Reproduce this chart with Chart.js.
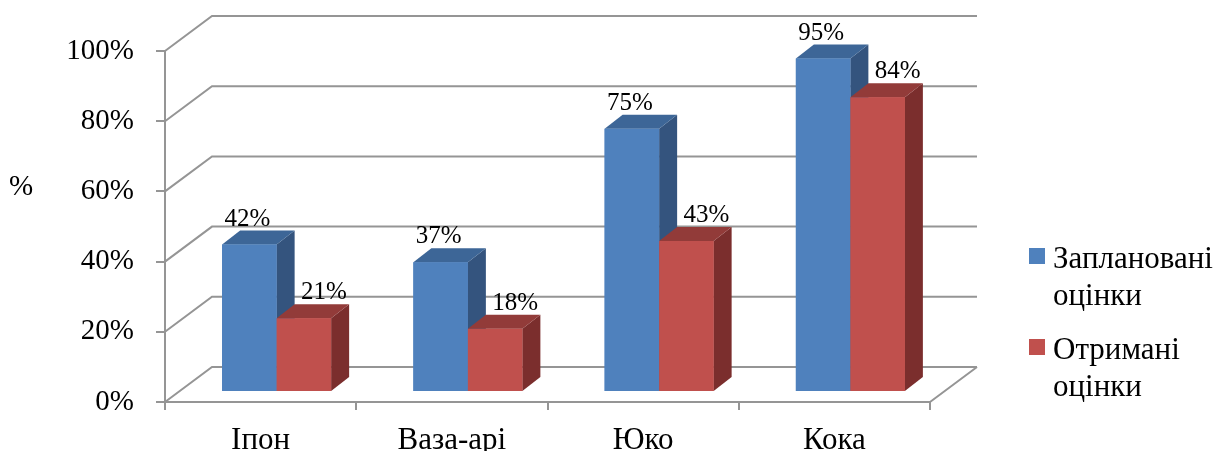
<!DOCTYPE html>
<html>
<head>
<meta charset="utf-8">
<script src="https://cdn.jsdelivr.net/npm/chart.js@4/dist/chart.umd.min.js"></script>
<style>
  html, body { margin: 0; padding: 0; background: #fff; }
  #wrap { width: 1221px; height: 451px; position: relative; }
</style>
</head>
<body>
<div id="wrap"><canvas id="chart"></canvas></div>
<script>
// chart data
const categories = ['Іпон', 'Ваза-арі', 'Юко', 'Кока'];
const planned = [42, 37, 75, 95];
const received = [21, 18, 43, 84];
const seriesNames = [['Заплановані', 'оцінки'], ['Отримані', 'оцінки']];
const yTicks = [0, 20, 40, 60, 80, 100];

// 3d look
const WALL = { dx: 47, dy: -35 };   // depth of the back wall
const PLANE = { dx: 16, dy: -10 };  // where the bars stand
const DEPTH = { dx: 18, dy: -14 };  // depth of one bar
const FONT = 'Liberation Serif, Times New Roman, serif';
const GRID = '#959595';

const colors = [
  { front: '#4f81bd', top: '#3d6697', side: '#34547e' },
  { front: '#c0504d', top: '#923b39', side: '#7b2e2d' }
];
const labelShift = [-2, 20];

function barBox(el) {
  const p = el.getProps(['x', 'y', 'base', 'width'], true);
  return { l: p.x - p.width / 2, r: p.x + p.width / 2, t: p.y, b: p.base, cx: p.x };
}

function poly(ctx, pts, fill) {
  ctx.beginPath();
  ctx.moveTo(pts[0][0], pts[0][1]);
  for (let i = 1; i < pts.length; i++) ctx.lineTo(pts[i][0], pts[i][1]);
  ctx.closePath();
  ctx.fillStyle = fill;
  ctx.fill();
}

const box3d = {
  id: 'box3d',
  beforeDatasetsDraw(chart) {
    const ctx = chart.ctx, a = chart.chartArea, y = chart.scales.y;
    ctx.save();
    ctx.strokeStyle = GRID;
    ctx.lineWidth = 2;
    ctx.beginPath();
    yTicks.forEach(v => {
      const py = y.getPixelForValue(v);
      ctx.moveTo(a.left, py);
      ctx.lineTo(a.left + WALL.dx, py + WALL.dy);
      ctx.lineTo(a.right + WALL.dx, py + WALL.dy);
    });
    ctx.moveTo(a.right, a.bottom);
    ctx.lineTo(a.right + WALL.dx, a.bottom + WALL.dy);
    ctx.stroke();
    ctx.restore();
    ctx.save();
    ctx.translate(PLANE.dx, PLANE.dy);
  },
  afterDatasetsDraw(chart) {
    const ctx = chart.ctx;
    chart.data.datasets.forEach((ds, i) => {
      const c = colors[i];
      chart.getDatasetMeta(i).data.forEach(el => {
        const b = barBox(el);
        poly(ctx, [[b.r, b.t], [b.r + DEPTH.dx, b.t + DEPTH.dy], [b.r + DEPTH.dx, b.b + DEPTH.dy], [b.r, b.b]], c.side);
        poly(ctx, [[b.l, b.t], [b.r, b.t], [b.r + DEPTH.dx, b.t + DEPTH.dy], [b.l + DEPTH.dx, b.t + DEPTH.dy]], c.top);
        el.draw(ctx, chart.chartArea);
      });
    });
    ctx.restore();
  },
  afterDraw(chart) {
    const ctx = chart.ctx;
    ctx.save();
    ctx.fillStyle = '#000';
    ctx.textBaseline = 'alphabetic';

    // value labels
    ctx.font = '25px ' + FONT;
    ctx.textAlign = 'center';
    chart.data.datasets.forEach((ds, i) => {
      chart.getDatasetMeta(i).data.forEach((el, j) => {
        const b = barBox(el);
        ctx.fillText(ds.data[j] + '%', b.cx + PLANE.dx + labelShift[i], b.t + PLANE.dy - 19);
      });
    });

    // axis title
    ctx.font = '29px ' + FONT;
    ctx.textAlign = 'left';
    ctx.fillText('%', 9, 195);

    // legend
    ctx.font = '31px ' + FONT;
    const lx = 1029, ly = [248, 339];
    seriesNames.forEach((lines, i) => {
      ctx.fillStyle = colors[i].front;
      ctx.fillRect(lx, ly[i], 16, 16);
      ctx.fillStyle = '#000';
      lines.forEach((t, k) => ctx.fillText(t, lx + 24, ly[i] + 20 + k * 37));
    });
    ctx.restore();
  }
};

new Chart(document.getElementById('chart'), {
  type: 'bar',
  data: {
    labels: categories,
    datasets: [
      { label: seriesNames[0].join(' '), data: planned, backgroundColor: colors[0].front },
      { label: seriesNames[1].join(' '), data: received, backgroundColor: colors[1].front }
    ]
  },
  options: {
    responsive: true,
    maintainAspectRatio: false,
    animation: false,
    events: [],
    layout: { padding: { left: 0, top: 51, right: 291, bottom: 0 } },
    datasets: { bar: { categoryPercentage: 0.57, barPercentage: 1 } },
    plugins: { legend: { display: false }, tooltip: { enabled: false } },
    scales: {
      x: {
        grid: { drawOnChartArea: false, color: GRID, lineWidth: 2, tickLength: 8 },
        border: { color: GRID, width: 2 },
        ticks: { color: '#000', font: { family: FONT, size: 31 }, padding: 12, maxRotation: 0 },
        afterFit: s => { s.height = 49; }
      },
      y: {
        min: 0, max: 100,
        afterBuildTicks: s => { s.ticks = yTicks.map(v => ({ value: v })); },
        grid: { drawOnChartArea: false, color: GRID, lineWidth: 2, tickLength: 9 },
        border: { color: GRID, width: 2 },
        ticks: { color: '#000', font: { family: FONT, size: 29 }, padding: 22, callback: v => v + '%' },
        afterFit: s => { s.width = 165; }
      }
    }
  },
  plugins: [box3d]
});
</script>
</body>
</html>
